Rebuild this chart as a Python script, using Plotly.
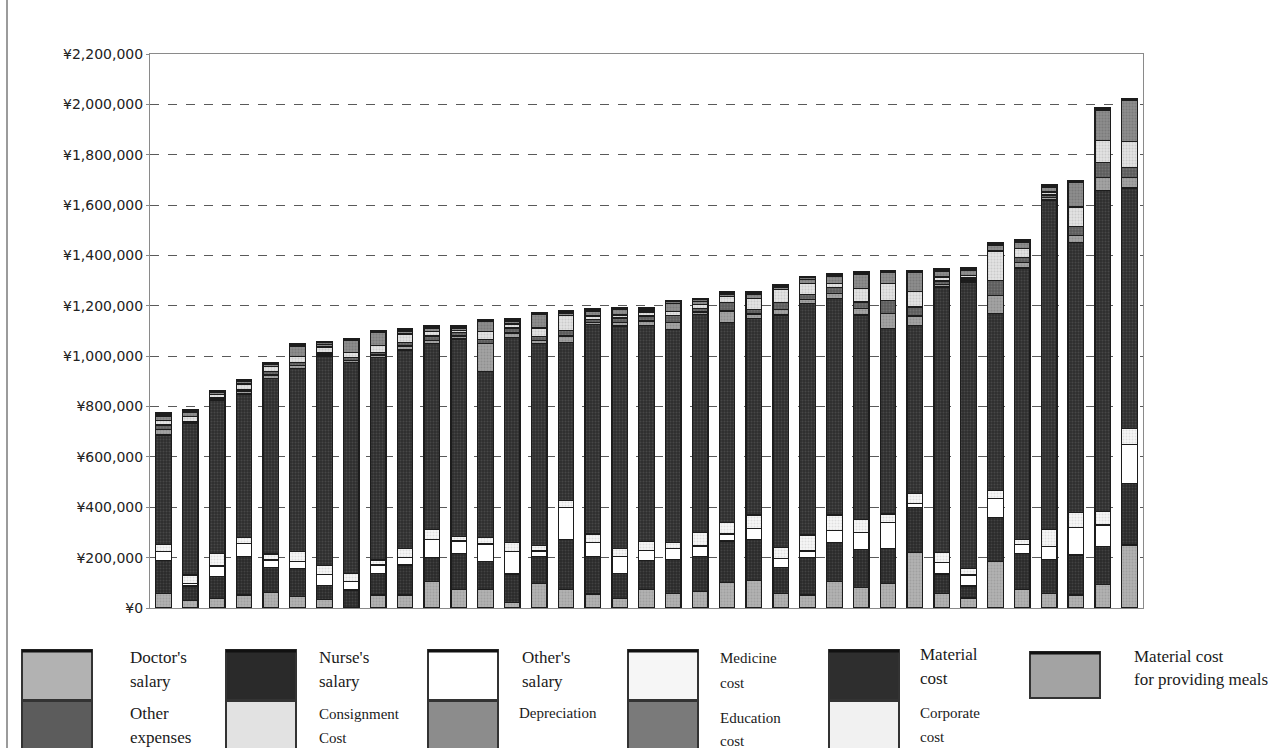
import plotly.graph_objects as go

# Facilities, sorted by total cost per patient (37 bars)
facilities = [f"F{i:02d}" for i in range(1, 38)]

# Cost components in thousands of yen (stacked bottom -> top)
doctor_salary = [58, 29, 38, 52, 62, 45, 34, 3, 52, 52, 105, 74, 74, 21, 98, 74, 56, 38, 74,
                 58, 65, 102, 108, 58, 52, 105, 81, 98, 220, 58, 40, 184, 74, 58, 52, 94, 250]
nurse_salary = [132, 58, 86, 152, 99, 112, 55, 68, 86, 119, 95, 143, 110, 114, 106, 199, 148, 100, 114,
                135, 139, 164, 165, 103, 148, 156, 152, 139, 180, 77, 47, 176, 143, 135, 158, 149, 245]
others_salary = [34, 11, 43, 53, 30, 27, 45, 34, 33, 29, 73, 49, 70, 89, 22, 126, 57, 66, 40,
                 44, 42, 28, 43, 36, 26, 46, 68, 103, 16, 45, 44, 76, 36, 50, 109, 87, 153]
medicine_cost = [29, 33, 50, 24, 23, 40, 34, 33, 20, 37, 39, 17, 27, 36, 22, 27, 33, 33, 35,
                 23, 53, 45, 53, 44, 64, 62, 51, 33, 39, 40, 26, 30, 20, 69, 61, 53, 66]
material_cost = [434, 604, 608, 569, 698, 726, 831, 837, 804, 788, 738, 785, 659, 815, 802, 629, 831, 883, 859,
                 845, 866, 796, 781, 922, 918, 861, 811, 737, 668, 1055, 1138, 704, 1077, 1308, 1072, 1274, 954]
meals_material_cost = [23, 3, 5, 12, 13, 12, 6, 8, 10, 15, 12, 12, 110, 17, 12, 25, 10, 15, 18,
                       30, 10, 45, 18, 22, 17, 20, 27, 60, 37, 10, 7, 70, 22, 10, 28, 53, 42]
other_expenses = [17, 3, 5, 7, 14, 13, 8, 12, 9, 15, 18, 15, 15, 20, 16, 22, 10, 17, 20,
                  27, 13, 34, 17, 27, 19, 22, 25, 52, 35, 13, 8, 60, 20, 10, 34, 60, 40]
consignment_cost = [17, 19, 13, 21, 20, 25, 23, 20, 29, 33, 18, 7, 33, 16, 34, 60, 15, 12, 15,
                    16, 17, 23, 43, 54, 46, 18, 53, 66, 63, 16, 10, 118, 36, 12, 78, 86, 102]
depreciation = [18, 15, 7, 10, 9, 40, 11, 47, 50, 12, 14, 8, 40, 12, 53, 8, 18, 21, 8,
                32, 13, 10, 17, 9, 15, 28, 57, 44, 75, 24, 20, 22, 24, 20, 98, 122, 162]
education_cost = [8, 6, 5, 4, 5, 5, 6, 5, 5, 6, 6, 6, 4, 5, 5, 6, 6, 4, 5,
                  7, 6, 5, 5, 5, 7, 6, 5, 5, 5, 6, 6, 6, 6, 6, 5, 6, 4]
corporate_cost = [5, 5, 2, 3, 3, 3, 5, 3, 2, 4, 5, 5, 3, 5, 4, 5, 4, 3, 4,
                  4, 4, 3, 5, 4, 5, 5, 4, 4, 3, 4, 4, 6, 5, 5, 4, 4, 4]

# y-axis ticks
tick_values = [0, 200000, 400000, 600000, 800000, 1000000, 1200000, 1400000,
               1600000, 1800000, 2000000, 2200000]
tick_labels = ["¥0", "¥200,000", "¥400,000", "¥600,000", "¥800,000", "¥1,000,000",
               "¥1,200,000", "¥1,400,000", "¥1,600,000", "¥1,800,000", "¥2,000,000", "¥2,200,000"]

# (values, fill, grain colour)
series = [
    (doctor_salary, "#b2b2b2", "#8e8e8e"),
    (nurse_salary, "#2a2a2a", "#5a5a5a"),
    (others_salary, "#ffffff", None),
    (medicine_cost, "#f6f6f6", "#c8c8c8"),
    (material_cost, "#2e2e2e", "#606060"),
    (meals_material_cost, "#a3a3a3", "#7d7d7d"),
    (other_expenses, "#5c5c5c", "#888888"),
    (consignment_cost, "#e2e2e2", "#b4b4b4"),
    (depreciation, "#8c8c8c", "#6a6a6a"),
    (education_cost, "#7a7a7a", "#5a5a5a"),
    (corporate_cost, "#f1f1f1", "#c4c4c4"),
]
names = ["Doctor's salary", "Nurse's salary", "Other's salary", "Medicine cost", "Material cost",
         "Material cost for providing meals", "Other expenses", "Consignment Cost", "Depreciation",
         "Education cost", "Corporate cost"]

fig = go.Figure()
for (vals, fill, fg), name in zip(series, names):
    marker = dict(color=fill, line=dict(color="#1c1c1c", width=1.3))
    if fg:
        marker["pattern"] = dict(shape=".", fgcolor=fg, bgcolor=fill, size=3, solidity=0.35)
    fig.add_trace(go.Bar(
        x=facilities, y=[v * 1000 for v in vals], name=name,
        marker=marker, showlegend=False,
    ))

W, H = 1282, 748
L, R, T, B = 150, 1143, 54, 608


def px(x):
    return (x - L) / (R - L)


def py(y):
    return (B - y) / (B - T)


shapes = []
annotations = []

# frame edge on the far left
shapes.append(dict(type="line", xref="paper", yref="paper", x0=px(7), x1=px(7), y0=py(0), y1=py(748),
                   line=dict(color="#7a7a7a", width=1.5)))

# legend swatches: (left x, top fill, bottom fill or None)
swatch_cols = [
    (22, "#b2b2b2", "#5c5c5c"),
    (226, "#2a2a2a", "#e2e2e2"),
    (428, "#ffffff", "#8c8c8c"),
    (628, "#f6f6f6", "#7a7a7a"),
    (829, "#2e2e2e", "#f1f1f1"),
    (1030, "#a3a3a3", None),
]
for x0, top_fill, bot_fill in swatch_cols:
    x1 = x0 + 70
    if bot_fill is None:
        shapes.append(dict(type="rect", xref="paper", yref="paper", x0=px(x0), x1=px(x1),
                           y0=py(698), y1=py(652), fillcolor=top_fill,
                           line=dict(color="#333333", width=2)))
        shapes.append(dict(type="line", xref="paper", yref="paper", x0=px(x0), x1=px(x1),
                           y0=py(653), y1=py(653), line=dict(color="#111111", width=3)))
        continue
    shapes.append(dict(type="rect", xref="paper", yref="paper", x0=px(x0), x1=px(x1),
                       y0=py(700), y1=py(650), fillcolor=top_fill,
                       line=dict(color="#333333", width=2)))
    shapes.append(dict(type="line", xref="paper", yref="paper", x0=px(x0), x1=px(x1),
                       y0=py(651), y1=py(651), line=dict(color="#111111", width=3)))
    shapes.append(dict(type="rect", xref="paper", yref="paper", x0=px(x0), x1=px(x1),
                       y0=py(752), y1=py(701), fillcolor=bot_fill,
                       line=dict(color="#333333", width=2)))

serif = "Liberation Serif"
legend_texts = [
    (128, 657, "Doctor's", 17), (128, 681, "salary", 17),
    (128, 713, "Other", 17), (128, 737, "expenses", 17),
    (317, 657, "Nurse's", 17), (317, 681, "salary", 17),
    (317, 714, "Consignment", 15), (317, 738, "Cost", 15),
    (520, 657, "Other's", 17), (520, 681, "salary", 17),
    (517, 713, "Depreciation", 15),
    (718, 658, "Medicine", 15), (718, 683, "cost", 15),
    (718, 718, "Education", 15), (718, 741, "cost", 15),
    (918, 654, "Material", 17), (918, 678, "cost", 17),
    (918, 713, "Corporate", 15), (918, 737, "cost", 15),
    (1132, 656, "Material cost", 17), (1132, 679, "for providing meals", 17),
]
for x, y, txt, size in legend_texts:
    annotations.append(dict(xref="paper", yref="paper", x=px(x), y=py(y), text=txt,
                            showarrow=False, xanchor="left", yanchor="middle",
                            font=dict(family=serif, size=size, color="#1a1a1a")))

fig.update_layout(
    width=W, height=H,
    margin=dict(l=L, r=W - R, t=T, b=H - B),
    paper_bgcolor="white", plot_bgcolor="white",
    barmode="stack", bargap=0.42,
    showlegend=False,
    shapes=shapes, annotations=annotations,
    xaxis=dict(showticklabels=False, ticks="", showgrid=False,
               showline=True, linecolor="#8a8a8a", linewidth=1, mirror=True),
    yaxis=dict(range=[0, 2200000], tickvals=tick_values, ticktext=tick_labels,
               showgrid=True, gridcolor="#5a5a5a", griddash="dash", gridwidth=1,
               showline=True, linecolor="#8a8a8a", linewidth=1, mirror=True,
               ticks="outside", ticklen=3, tickcolor="#8a8a8a",
               zeroline=False,
               tickfont=dict(family="DejaVu Sans", size=14, color="#222222")),
)

fig.write_html("out.html")
